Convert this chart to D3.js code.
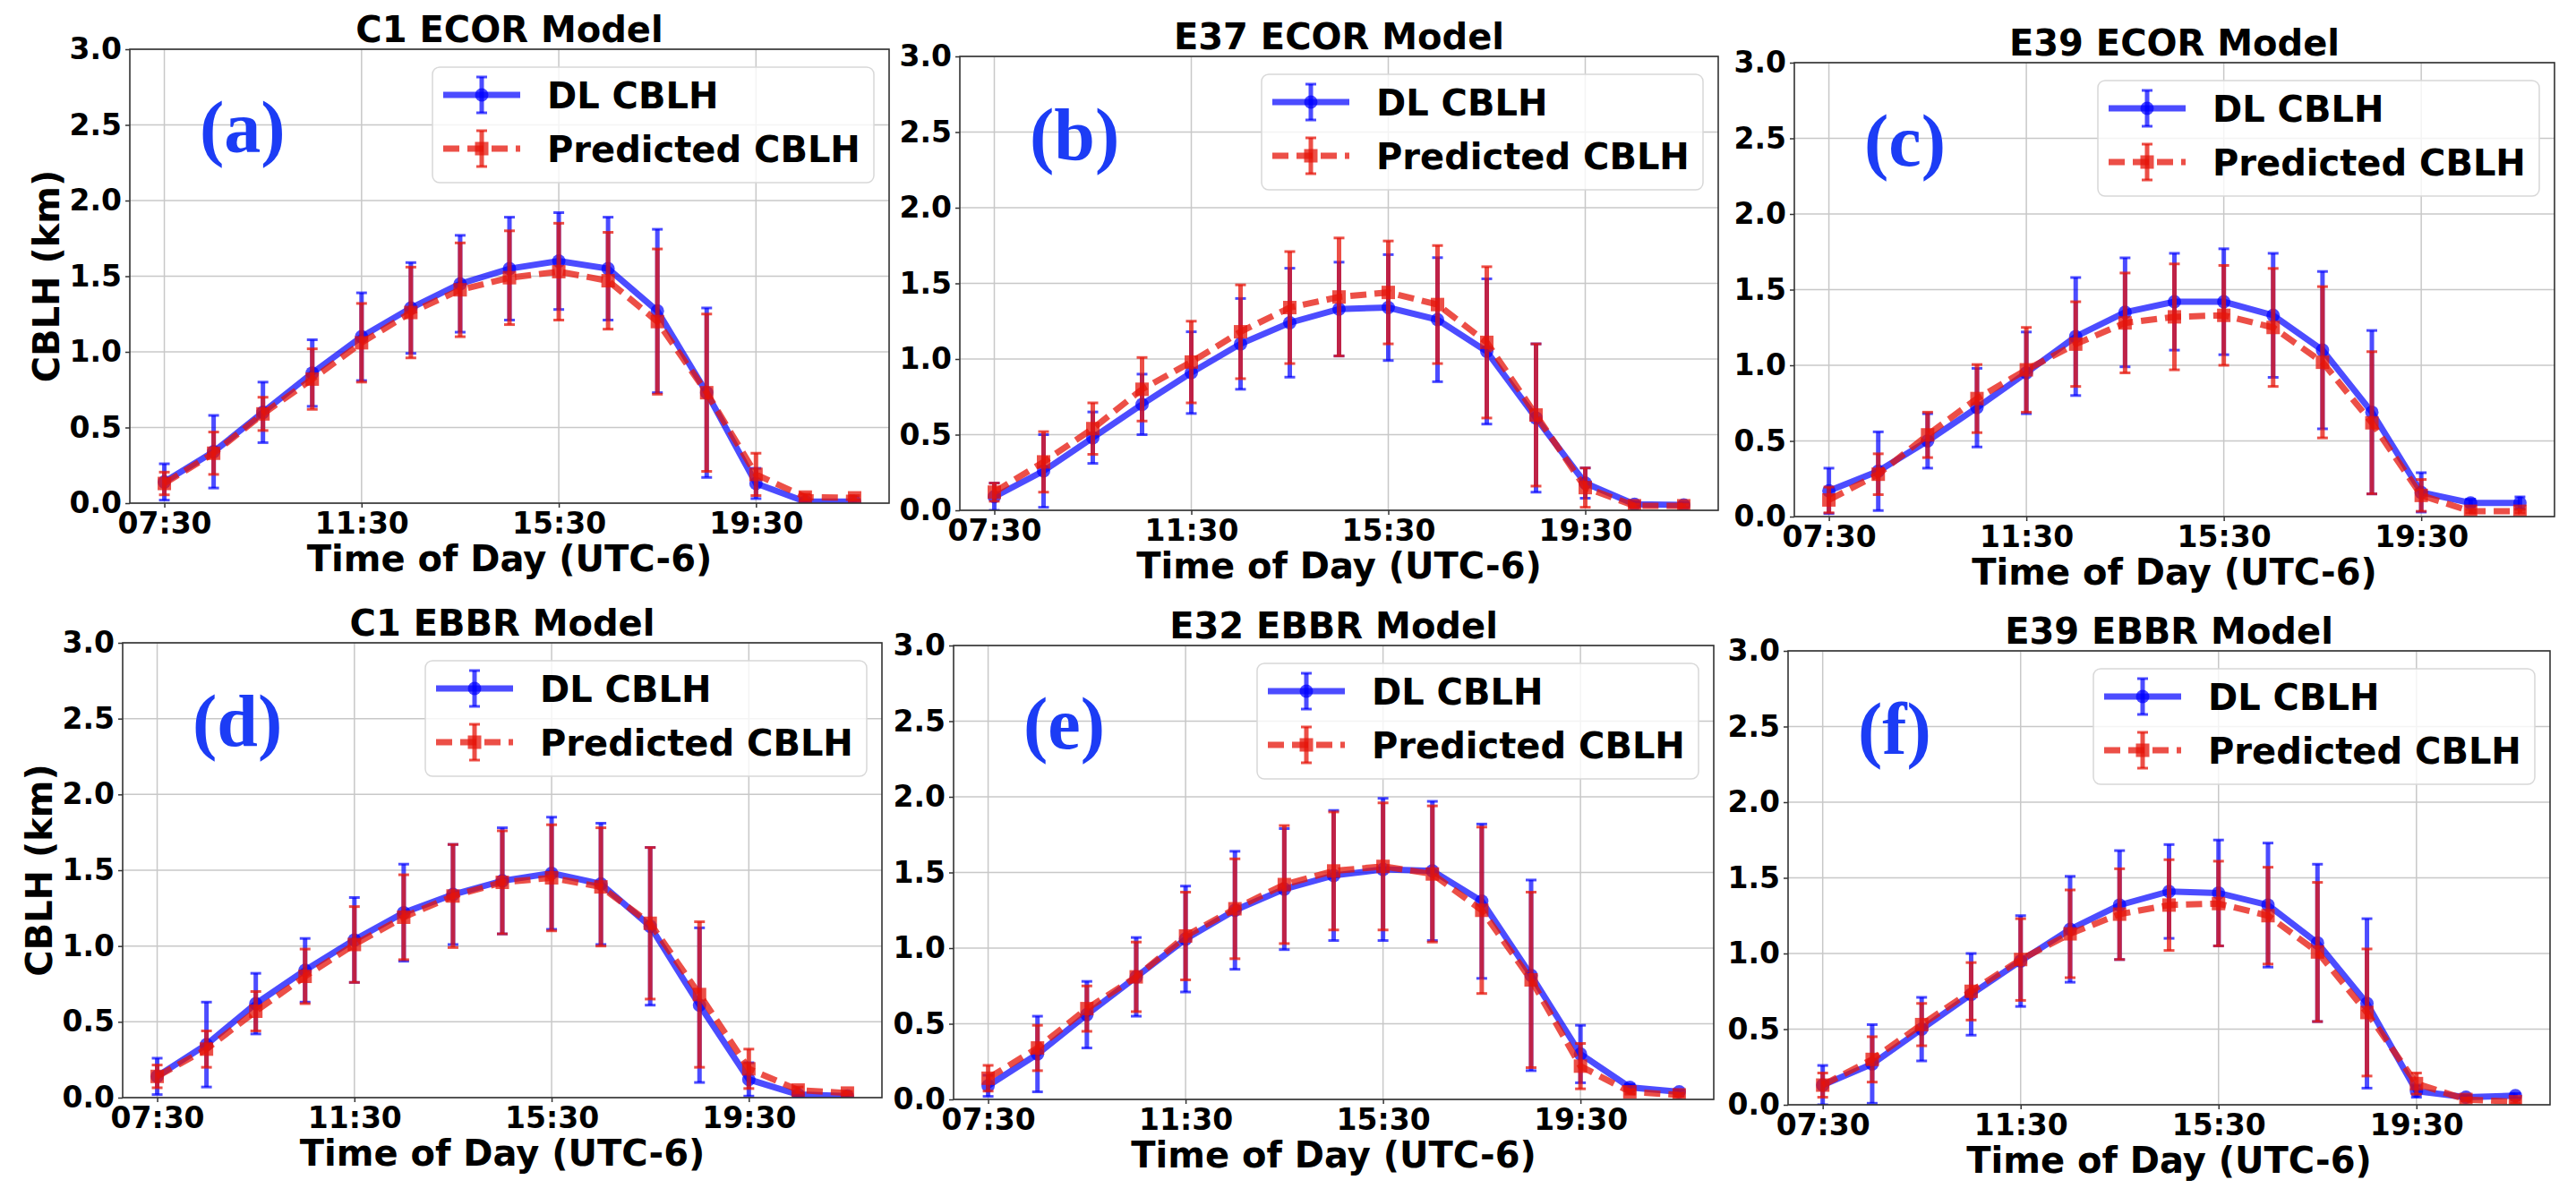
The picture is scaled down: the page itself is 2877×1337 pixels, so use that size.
<!DOCTYPE html>
<html>
<head>
<meta charset="utf-8">
<script src="https://cdn.jsdelivr.net/npm/d3@7"></script>
<style>
  html, body { margin: 0; padding: 0; background: #fff; }
  svg { display: block; }
</style>
</head>
<body>
<div id="chart"></div>
<script>
// hourly time stamps (UTC-6)
const times = ["07:30", "08:30", "09:30", "10:30", "11:30", "12:30", "13:30", "14:30",
               "15:30", "16:30", "17:30", "18:30", "19:30", "20:30", "21:30"]
const tickTimes = ["07:30", "11:30", "15:30", "19:30"]
const yTicks = [0, 0.5, 1.0, 1.5, 2.0, 2.5, 3.0]

// (a) C1 ECOR
const c1EcorDL      = [0.14, 0.34, 0.60, 0.86, 1.10, 1.29, 1.45, 1.55, 1.60, 1.55, 1.27, 0.73, 0.13, 0.01, 0.01]
const c1EcorDLErr   = [0.12, 0.24, 0.20, 0.22, 0.29, 0.30, 0.32, 0.34, 0.32, 0.34, 0.54, 0.56, 0.10, 0.01, 0.01]
const c1EcorPred    = [0.13, 0.33, 0.59, 0.82, 1.06, 1.26, 1.41, 1.49, 1.53, 1.47, 1.20, 0.73, 0.19, 0.04, 0.035]
const c1EcorPredErr = [0.075, 0.14, 0.11, 0.20, 0.26, 0.30, 0.31, 0.31, 0.32, 0.32, 0.48, 0.52, 0.14, 0.02, 0.015]

// (b) E37 ECOR
const e37EcorDL      = [0.09, 0.26, 0.48, 0.70, 0.91, 1.10, 1.24, 1.33, 1.34, 1.26, 1.05, 0.61, 0.18, 0.04, 0.035]
const e37EcorDLErr   = [0.09, 0.24, 0.17, 0.20, 0.27, 0.30, 0.36, 0.31, 0.35, 0.41, 0.48, 0.49, 0.10, 0.015, 0.015]
const e37EcorPred    = [0.12, 0.32, 0.54, 0.80, 0.98, 1.18, 1.34, 1.41, 1.44, 1.36, 1.11, 0.63, 0.15, 0.03, 0.03]
const e37EcorPredErr = [0.06, 0.20, 0.17, 0.21, 0.27, 0.31, 0.37, 0.39, 0.34, 0.39, 0.50, 0.47, 0.13, 0.01, 0.01]

// (c) E39 ECOR
const e39EcorDL      = [0.17, 0.30, 0.50, 0.72, 0.95, 1.19, 1.35, 1.42, 1.42, 1.33, 1.10, 0.69, 0.16, 0.09, 0.09]
const e39EcorDLErr   = [0.15, 0.26, 0.18, 0.26, 0.27, 0.39, 0.36, 0.32, 0.35, 0.41, 0.52, 0.54, 0.13, 0.025, 0.04]
const e39EcorPred    = [0.11, 0.28, 0.54, 0.78, 0.97, 1.14, 1.28, 1.32, 1.33, 1.25, 1.02, 0.62, 0.14, 0.035, 0.035]
const e39EcorPredErr = [0.085, 0.135, 0.15, 0.225, 0.28, 0.28, 0.33, 0.35, 0.33, 0.39, 0.50, 0.47, 0.105, 0.01, 0.01]

// (d) C1 EBBR
const c1EbbrDL      = [0.14, 0.35, 0.62, 0.84, 1.04, 1.22, 1.34, 1.43, 1.48, 1.41, 1.13, 0.61, 0.12, 0.02, 0.01]
const c1EbbrDLErr   = [0.12, 0.28, 0.20, 0.21, 0.28, 0.32, 0.33, 0.35, 0.37, 0.40, 0.52, 0.51, 0.11, 0.01, 0.01]
const c1EbbrPred    = [0.14, 0.32, 0.57, 0.80, 1.01, 1.19, 1.33, 1.42, 1.45, 1.39, 1.15, 0.68, 0.19, 0.05, 0.03]
const c1EbbrPredErr = [0.075, 0.12, 0.13, 0.18, 0.25, 0.28, 0.34, 0.34, 0.35, 0.39, 0.50, 0.48, 0.13, 0.02, 0.01]

// (e) E32 EBBR
const e32EbbrDL      = [0.09, 0.30, 0.56, 0.81, 1.06, 1.25, 1.39, 1.48, 1.52, 1.51, 1.31, 0.82, 0.30, 0.08, 0.05]
const e32EbbrDLErr   = [0.07, 0.25, 0.22, 0.26, 0.35, 0.39, 0.40, 0.43, 0.47, 0.46, 0.51, 0.63, 0.19, 0.02, 0.01]
const e32EbbrPred    = [0.14, 0.34, 0.60, 0.81, 1.08, 1.26, 1.42, 1.51, 1.54, 1.49, 1.25, 0.79, 0.22, 0.05, 0.03]
const e32EbbrPredErr = [0.085, 0.15, 0.15, 0.23, 0.29, 0.33, 0.39, 0.39, 0.42, 0.45, 0.55, 0.58, 0.15, 0.015, 0.01]

// (f) E39 EBBR
const e39EbbrDL      = [0.13, 0.27, 0.50, 0.73, 0.95, 1.16, 1.32, 1.41, 1.40, 1.32, 1.07, 0.67, 0.09, 0.05, 0.06]
const e39EbbrDLErr   = [0.13, 0.26, 0.21, 0.27, 0.30, 0.35, 0.36, 0.31, 0.35, 0.41, 0.52, 0.56, 0.04, 0.01, 0.015]
const e39EbbrPred    = [0.13, 0.30, 0.53, 0.75, 0.96, 1.13, 1.26, 1.32, 1.33, 1.25, 1.01, 0.61, 0.14, 0.035, 0.02]
const e39EbbrPredErr = [0.08, 0.15, 0.14, 0.19, 0.27, 0.29, 0.30, 0.30, 0.28, 0.32, 0.46, 0.42, 0.07, 0.01, 0.01]

const panels = [
  { tag: "(a)", title: "C1 ECOR Model",  dl: c1EcorDL,  dlErr: c1EcorDLErr,  pred: c1EcorPred,  predErr: c1EcorPredErr,  box: [145, 55, 993, 562],    ylabel: true },
  { tag: "(b)", title: "E37 ECOR Model", dl: e37EcorDL, dlErr: e37EcorDLErr, pred: e37EcorPred, predErr: e37EcorPredErr, box: [1072, 63, 1919, 570],  ylabel: false },
  { tag: "(c)", title: "E39 ECOR Model", dl: e39EcorDL, dlErr: e39EcorDLErr, pred: e39EcorPred, predErr: e39EcorPredErr, box: [2004, 70, 2853, 577],  ylabel: false },
  { tag: "(d)", title: "C1 EBBR Model",  dl: c1EbbrDL,  dlErr: c1EbbrDLErr,  pred: c1EbbrPred,  predErr: c1EbbrPredErr,  box: [137, 718, 985, 1226],  ylabel: true },
  { tag: "(e)", title: "E32 EBBR Model", dl: e32EbbrDL, dlErr: e32EbbrDLErr, pred: e32EbbrPred, predErr: e32EbbrPredErr, box: [1065, 721, 1914, 1228], ylabel: false },
  { tag: "(f)", title: "E39 EBBR Model", dl: e39EbbrDL, dlErr: e39EbbrDLErr, pred: e39EbbrPred, predErr: e39EbbrPredErr, box: [1997, 727, 2848, 1234], ylabel: false }
]

const W = 2877, H = 1337
const FONT = "'DejaVu Sans', Verdana, sans-serif"
const BLUE = "#0000ff", RED = "#e6140a"
const DL_ALPHA = 0.7, PRED_ALPHA = 0.75
const LINE_W = 7, BAR_W = 5, MARK = 7.5

const svg = d3.select("#chart").append("svg")
  .attr("width", W)
  .attr("height", H)
  .attr("viewBox", `0 0 ${W} ${H}`)

svg.append("rect").attr("width", W).attr("height", H).attr("fill", "#fff")

const defs = svg.append("defs")

panels.forEach((p, pi) => {
  const [x0, y0, x1, y1] = p.box
  const x = d3.scalePoint().domain(times).range([x0, x1]).padding(0.7)
  const y = d3.scaleLinear().domain([0, 3]).range([y1, y0])

  const g = svg.append("g").attr("class", "panel")

  defs.append("clipPath").attr("id", `clip${pi}`)
    .append("rect").attr("x", x0).attr("y", y0).attr("width", x1 - x0).attr("height", y1 - y0)

  // grid
  g.append("g").selectAll("line").data(yTicks).join("line")
    .attr("x1", x0).attr("x2", x1)
    .attr("y1", d => y(d)).attr("y2", d => y(d))
    .attr("stroke", "#c8c8c8").attr("stroke-width", 1.5)
  g.append("g").selectAll("line").data(tickTimes).join("line")
    .attr("x1", d => x(d)).attr("x2", d => x(d))
    .attr("y1", y0).attr("y2", y1)
    .attr("stroke", "#c8c8c8").attr("stroke-width", 1.5)

  // axes
  const xAxis = g.append("g")
    .attr("transform", `translate(0,${y1})`)
    .call(d3.axisBottom(x).tickValues(tickTimes).tickSize(5).tickPadding(6))
  const yAxis = g.append("g")
    .attr("transform", `translate(${x0},0)`)
    .call(d3.axisLeft(y).tickValues(yTicks).tickFormat(d3.format(".1f")).tickSize(5).tickPadding(4))
  ;[xAxis, yAxis].forEach(a => {
    a.select(".domain").remove()
    a.selectAll(".tick line").attr("stroke", "#333").attr("stroke-width", 1.5)
    a.selectAll(".tick text")
      .attr("fill", "#000")
      .style("font-family", FONT)
      .style("font-weight", "bold")
      .style("font-size", "33px")
  })

  // plotted series
  const plot = g.append("g").attr("clip-path", `url(#clip${pi})`)

  const drawSeries = (mean, err, color, alpha, isPred) => {
    const pts = times.map((t, i) => ({ t, m: mean[i], e: err[i] }))
    const eb = plot.append("g")
    eb.selectAll("line.bar").data(pts).join("line").attr("class", "bar")
      .attr("x1", d => x(d.t)).attr("x2", d => x(d.t))
      .attr("y1", d => y(d.m - d.e)).attr("y2", d => y(d.m + d.e))
      .attr("stroke", color).attr("stroke-opacity", alpha).attr("stroke-width", BAR_W)
    ;["lo", "hi"].forEach(k => {
      eb.selectAll(`line.cap${k}`).data(pts).join("line").attr("class", `cap${k}`)
        .attr("x1", d => x(d.t) - 6).attr("x2", d => x(d.t) + 6)
        .attr("y1", d => y(k === "lo" ? d.m - d.e : d.m + d.e))
        .attr("y2", d => y(k === "lo" ? d.m - d.e : d.m + d.e))
        .attr("stroke", color).attr("stroke-opacity", alpha).attr("stroke-width", 3)
    })

    const line = d3.line().x(d => x(d.t)).y(d => y(d.m))
    plot.append("path").datum(pts)
      .attr("d", line)
      .attr("fill", "none")
      .attr("stroke", color).attr("stroke-opacity", alpha)
      .attr("stroke-width", LINE_W)
      .attr("stroke-dasharray", isPred ? "18,9" : null)

    if (isPred) {
      plot.append("g").selectAll("rect").data(pts).join("rect")
        .attr("x", d => x(d.t) - MARK).attr("y", d => y(d.m) - MARK)
        .attr("width", 2 * MARK).attr("height", 2 * MARK)
        .attr("fill", color).attr("fill-opacity", alpha)
    } else {
      plot.append("g").selectAll("circle").data(pts).join("circle")
        .attr("cx", d => x(d.t)).attr("cy", d => y(d.m)).attr("r", MARK)
        .attr("fill", color).attr("fill-opacity", alpha)
    }
  }

  drawSeries(p.dl, p.dlErr, BLUE, DL_ALPHA, false)
  drawSeries(p.pred, p.predErr, RED, PRED_ALPHA, true)

  // spines
  g.append("rect")
    .attr("x", x0).attr("y", y0).attr("width", x1 - x0).attr("height", y1 - y0)
    .attr("fill", "none").attr("stroke", "#333").attr("stroke-width", 1.6)

  // panel tag
  g.append("text")
    .attr("x", x0 + 78).attr("y", y0 + 115)
    .attr("fill", "#1c3cf5")
    .style("font-family", "'Liberation Serif', 'Times New Roman', serif")
    .style("font-weight", "bold")
    .style("font-size", "82px")
    .text(p.tag)

  // legend
  const lw = 493, lh = 129
  const lx = x1 - 17 - lw, ly = y0 + 20
  const lg = g.append("g")
  lg.append("rect")
    .attr("x", lx).attr("y", ly).attr("width", lw).attr("height", lh)
    .attr("rx", 8).attr("ry", 8)
    .attr("fill", "#fff").attr("fill-opacity", 0.8)
    .attr("stroke", "#d8d8d8").attr("stroke-width", 1.5)
  const items = [
    { label: "DL CBLH", color: BLUE, alpha: DL_ALPHA, pred: false },
    { label: "Predicted CBLH", color: RED, alpha: PRED_ALPHA, pred: true }
  ]
  items.forEach((it, i) => {
    const cy = ly + 31 + i * 60
    const cx = lx + 55
    lg.append("line")
      .attr("x1", lx + 12).attr("x2", lx + 98).attr("y1", cy).attr("y2", cy)
      .attr("stroke", it.color).attr("stroke-opacity", it.alpha).attr("stroke-width", LINE_W)
      .attr("stroke-dasharray", it.pred ? "18,9" : null)
    lg.append("line")
      .attr("x1", cx).attr("x2", cx).attr("y1", cy - 20).attr("y2", cy + 20)
      .attr("stroke", it.color).attr("stroke-opacity", it.alpha).attr("stroke-width", BAR_W)
    ;[-20, 20].forEach(dy => {
      lg.append("line")
        .attr("x1", cx - 6).attr("x2", cx + 6).attr("y1", cy + dy).attr("y2", cy + dy)
        .attr("stroke", it.color).attr("stroke-opacity", it.alpha).attr("stroke-width", 3)
    })
    if (it.pred) {
      lg.append("rect").attr("x", cx - MARK).attr("y", cy - MARK).attr("width", 2 * MARK).attr("height", 2 * MARK)
        .attr("fill", it.color).attr("fill-opacity", it.alpha)
    } else {
      lg.append("circle").attr("cx", cx).attr("cy", cy).attr("r", MARK)
        .attr("fill", it.color).attr("fill-opacity", it.alpha)
    }
    lg.append("text")
      .attr("x", lx + 128).attr("y", cy + 15)
      .attr("fill", "#000")
      .style("font-family", FONT).style("font-weight", "bold").style("font-size", "40px")
      .text(it.label)
  })

  // title and axis labels
  g.append("text")
    .attr("x", (x0 + x1) / 2).attr("y", y0 - 8)
    .attr("text-anchor", "middle")
    .style("font-family", FONT).style("font-weight", "bold").style("font-size", "40px")
    .text(p.title)

  g.append("text")
    .attr("x", (x0 + x1) / 2).attr("y", y1 + 76)
    .attr("text-anchor", "middle")
    .style("font-family", FONT).style("font-weight", "bold").style("font-size", "40px")
    .text("Time of Day (UTC-6)")

  if (p.ylabel) {
    g.append("text")
      .attr("transform", `translate(${x0 - 79},${(y0 + y1) / 2}) rotate(-90)`)
      .attr("text-anchor", "middle")
      .style("font-family", FONT).style("font-weight", "bold").style("font-size", "40px")
      .text("CBLH (km)")
  }
})
</script>
</body>
</html>
